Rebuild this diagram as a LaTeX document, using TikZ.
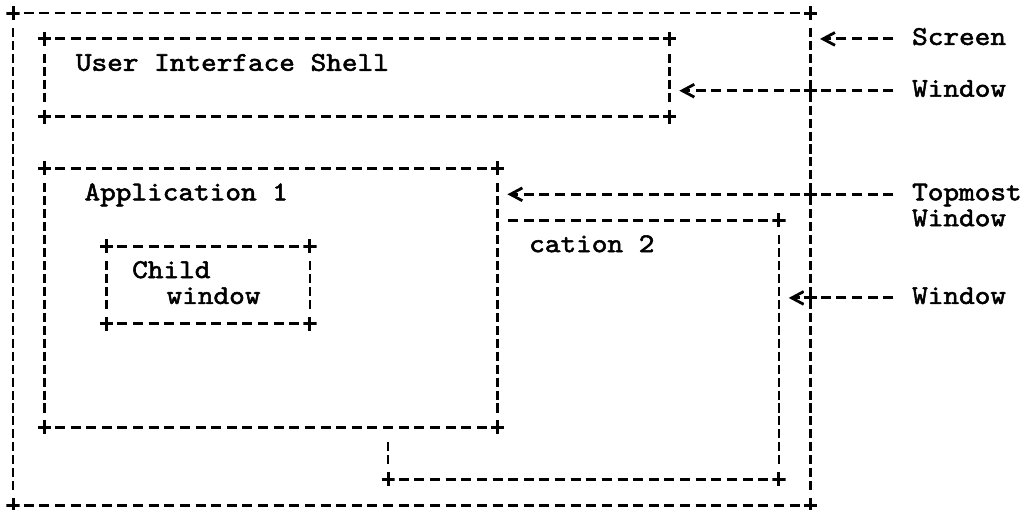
\documentclass[tikz,border=0pt]{standalone}
\usepackage{fontspec}
\newfontfamily\termfont{lmmono10-regular.otf}[FakeBold=2,FakeStretch=1.1]
\usetikzlibrary{arrows.meta}

\begin{document}
\begin{tikzpicture}[x=7.815pt,y=-12.95pt,
    hside/.style={line width=1.45pt,dash pattern=on 5pt off 2.815pt,
                  shorten <=5.31pt,shorten >=5.31pt},
    vside/.style={line width=1.35pt,dash pattern=on 4.53pt off 1.945pt,
                  shorten <=7.45pt,shorten >=7.45pt},
    crossmark/.style={inner sep=0pt,outer sep=0pt,minimum width=6.6pt,
                  minimum height=7pt,fill=white,
                  path picture={\draw[line width=1.5pt]
                    (path picture bounding box.west) -- (path picture bounding box.east)
                    (path picture bounding box.north) -- (path picture bounding box.south);}},
    lbl/.style={font=\fontsize{13.55}{15}\selectfont\termfont,inner sep=0pt,
                anchor=west,text height=8.5pt,text depth=2.5pt},
    conn/.style={line width=1.45pt,dash pattern=on 5pt off 2.815pt,shorten <=9.22pt,
                 -{Straight Barb[length=6pt,width=6.4pt,line width=1.4pt]}}]
  \useasboundingbox (-0.8318,-0.502) rectangle (64.81,19.151);

  % corners: screen, shell, application 1, child window
  \node[crossmark] (scr-nw) at (0,0) {};
  \node[crossmark] (scr-ne) at (51,0) {};
  \node[crossmark] (scr-sw) at (0,19) {};
  \node[crossmark] (scr-se) at (51,19) {};
  \node[crossmark] (ui-nw) at (2,1) {};
  \node[crossmark] (ui-ne) at (42,1) {};
  \node[crossmark] (ui-sw) at (2,4) {};
  \node[crossmark] (ui-se) at (42,4) {};
  \node[crossmark] (app1-nw) at (2,6) {};
  \node[crossmark] (app1-ne) at (31,6) {};
  \node[crossmark] (app1-sw) at (2,16) {};
  \node[crossmark] (app1-se) at (31,16) {};
  \node[crossmark] (child-nw) at (6,9) {};
  \node[crossmark] (child-ne) at (19,9) {};
  \node[crossmark] (child-sw) at (6,12) {};
  \node[crossmark] (child-se) at (19,12) {};
  % application 2 sits behind application 1
  \node[crossmark] (app2-ne) at (49,8) {};
  \node[crossmark] (app2-sw) at (24,18) {};
  \node[crossmark] (app2-se) at (49,18) {};
  \coordinate (app2-top) at (31,8);
  \coordinate (app2-left) at (24,16);

  \foreach \b in {scr,ui,app1,child}{
    \draw[hside] (\b-nw.center) -- (\b-ne.center);
    \draw[hside] (\b-sw.center) -- (\b-se.center);
    \draw[vside] (\b-nw.center) -- (\b-sw.center);
    \draw[vside] (\b-ne.center) -- (\b-se.center);
  }
  \draw[hside] (app2-top) -- (app2-ne.center);
  \draw[hside] (app2-sw.center) -- (app2-se.center);
  \draw[vside] (app2-ne.center) -- (app2-se.center);
  \draw[vside] (app2-left) -- (app2-sw.center);

  \node[lbl] (ui-txt) at (4.0,2) {User Interface Shell};
  \node[lbl] (app1-txt) at (4.55,7) {Application 1};
  \node[lbl] (child-txt) at (7.6,10) {Child};
  \node[lbl] (child-txt2) at (9.8,11) {window};
  \node[lbl] (app2-txt) at (33.0,9) {cation 2};

  \node[lbl] (scr-lbl) at (57.5,1) {Screen};
  \node[lbl] (ui-lbl) at (57.5,3) {Window};
  \node[lbl] (top-lbl) at (57.5,7) {Topmost};
  \node[lbl] (top-lbl2) at (57.5,8) {Window};
  \node[lbl] (app2-lbl) at (57.5,11) {Window};

  \coordinate (scr-tip) at (51.63,1);
  \coordinate (ui-tip) at (42.63,3);
  \coordinate (app1-tip) at (31.63,7);
  \coordinate (app2-tip) at (49.63,11);
  \draw[conn] (scr-lbl.west) -- (scr-tip);
  \draw[conn] (ui-lbl.west) -- (ui-tip);
  \draw[conn] (top-lbl.west) -- (app1-tip);
  \draw[conn] (app2-lbl.west) -- (app2-tip);

  % crossings on the right side of the screen
  \foreach \r in {3,7,11}
    \node[crossmark] (jn-\r) at (51,\r) {};
\end{tikzpicture}
\end{document}
